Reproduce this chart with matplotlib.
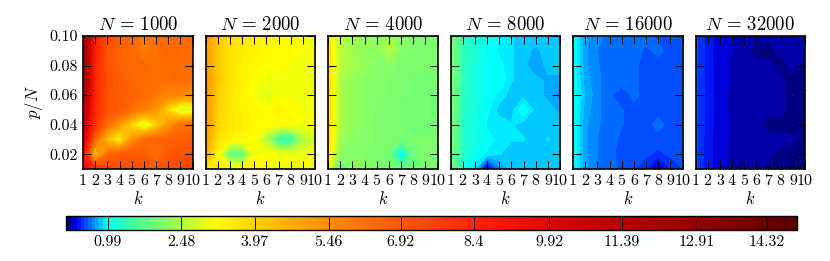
import numpy as np
import matplotlib
matplotlib.use('Agg')
import matplotlib.pyplot as plt
from matplotlib.colors import LinearSegmentedColormap

plt.rcParams['font.family'] = 'cmr10'
plt.rcParams['mathtext.fontset'] = 'cm'
plt.rcParams['axes.unicode_minus'] = False

k = [1, 2, 3, 4, 5, 6, 7, 8, 9, 10]
ratio = [0.01, 0.02, 0.03, 0.04, 0.05, 0.06, 0.07, 0.08, 0.09, 0.10]
ns = [1000, 2000, 4000, 8000, 16000, 32000]
cbar_ticks = [0.99, 2.48, 3.97, 5.46, 6.92, 8.4, 9.92, 11.39, 12.91, 14.32]
vmin = 0.15
vmax = 14.93

# rows go from p/N=0.01 up to p/N=0.10
z1000 = [
    [9.5, 8.0, 7.5, 7.3, 7.1, 7.1, 6.9, 7.2, 7.4, 7.6],
    [9.0, 4.0, 6.4, 6.8, 6.9, 6.8, 6.2, 6.9, 7.0, 7.1],
    [10.5, 6.4, 4.2, 3.1, 5.2, 6.3, 6.5, 6.6, 6.6, 6.9],
    [11.0, 8.0, 6.2, 5.2, 3.8, 2.5, 3.8, 5.2, 6.2, 6.3],
    [11.5, 8.2, 7.1, 6.8, 6.2, 5.8, 5.2, 3.8, 2.5, 2.7],
    [12.0, 8.4, 7.1, 6.8, 6.6, 6.3, 6.0, 5.6, 5.6, 5.3],
    [12.2, 8.4, 7.2, 6.8, 6.5, 6.3, 6.2, 6.3, 6.4, 6.2],
    [12.4, 8.4, 7.0, 6.6, 6.4, 6.4, 6.2, 6.3, 6.3, 6.2],
    [12.6, 8.5, 7.1, 6.6, 6.4, 5.9, 6.2, 6.4, 6.4, 6.3],
    [12.8, 8.6, 7.2, 6.7, 6.5, 6.1, 6.3, 6.5, 6.4, 6.4],
]
z2000 = [
    [3.6, 3.4, 3.3, 3.3, 3.3, 3.2, 3.1, 3.1, 3.1, 3.1],
    [4.8, 3.3, 1.8, 1.7, 3.1, 3.2, 3.1, 3.0, 3.0, 3.1],
    [5.0, 3.7, 3.3, 3.3, 3.2, 2.5, 1.3, 1.2, 2.4, 2.8],
    [5.1, 3.9, 3.6, 3.5, 3.3, 3.2, 3.2, 3.2, 3.1, 3.1],
    [5.2, 4.0, 3.6, 3.4, 3.3, 3.2, 3.4, 3.2, 3.1, 3.1],
    [5.2, 4.1, 3.6, 3.4, 3.1, 2.9, 3.1, 3.1, 3.0, 3.0],
    [5.2, 4.1, 3.7, 3.4, 3.2, 3.0, 3.1, 3.1, 3.1, 3.1],
    [5.2, 4.1, 3.7, 3.4, 3.3, 3.2, 3.2, 3.1, 3.1, 3.0],
    [5.2, 4.1, 3.7, 3.5, 3.4, 3.3, 3.2, 3.2, 3.1, 3.1],
    [5.3, 4.2, 3.8, 3.6, 3.4, 3.3, 3.3, 3.2, 3.1, 3.1],
]
z4000 = [
    [3.1, 1.4, 2.25, 2.15, 2.05, 2.05, 1.85, 1.95, 2.05, 2.05],
    [3.5, 2.15, 2.15, 2.05, 2.05, 1.95, 0.8, 1.85, 2.05, 1.95],
    [3.7, 2.35, 2.15, 2.15, 2.05, 2.05, 1.95, 2.05, 2.05, 2.05],
    [3.8, 2.45, 2.25, 2.15, 2.05, 2.05, 2.05, 1.95, 1.95, 1.95],
    [3.8, 2.45, 2.25, 2.15, 2.05, 2.05, 1.95, 1.95, 1.95, 1.95],
    [3.8, 2.45, 2.25, 2.15, 2.15, 2.05, 2.05, 1.95, 1.95, 1.95],
    [3.8, 2.45, 2.25, 2.15, 2.15, 2.05, 2.05, 1.95, 1.95, 2.05],
    [3.8, 2.55, 2.45, 2.25, 2.15, 2.15, 2.05, 2.05, 2.05, 2.05],
    [3.7, 2.55, 2.35, 2.25, 2.15, 2.55, 2.15, 2.05, 2.05, 2.05],
    [3.7, 2.55, 2.35, 2.25, 2.25, 2.35, 2.15, 2.05, 2.05, 2.05],
]
z8000 = [
    [1.9, 1.15, 0.9, 0.2, 0.7, 0.85, 0.85, 0.85, 0.85, 0.85],
    [2.0, 1.25, 1.05, 0.95, 0.9, 0.85, 0.85, 0.85, 0.85, 0.85],
    [2.1, 1.25, 1.1, 1.0, 0.95, 0.9, 0.9, 0.85, 0.9, 0.85],
    [2.1, 1.25, 1.15, 0.95, 0.95, 0.9, 0.85, 0.85, 0.85, 0.85],
    [2.1, 1.25, 1.15, 1.0, 0.85, 0.85, 1.05, 0.85, 0.85, 0.8],
    [2.1, 1.35, 1.15, 1.0, 0.95, 0.85, 0.85, 0.85, 0.8, 0.7],
    [2.1, 1.35, 1.15, 1.0, 1.05, 0.9, 0.85, 0.85, 0.8, 0.8],
    [2.1, 1.35, 1.15, 1.0, 1.0, 0.9, 0.85, 0.75, 0.85, 0.85],
    [2.1, 1.35, 1.2, 1.05, 0.95, 0.9, 0.85, 0.8, 0.85, 0.85],
    [2.1, 1.35, 1.2, 1.05, 0.95, 0.9, 0.85, 0.85, 0.85, 0.85],
]
z16000 = [
    [1.05, 0.76, 0.67, 0.62, 0.58, 0.54, 0.45, 0.2, 0.45, 0.52],
    [1.05, 0.76, 0.67, 0.61, 0.58, 0.56, 0.54, 0.5, 0.54, 0.56],
    [1.05, 0.76, 0.67, 0.62, 0.58, 0.56, 0.56, 0.56, 0.56, 0.56],
    [1.05, 0.76, 0.68, 0.63, 0.6, 0.56, 0.56, 0.63, 0.56, 0.56],
    [1.05, 0.78, 0.69, 0.62, 0.6, 0.57, 0.56, 0.56, 0.56, 0.56],
    [1.05, 0.82, 0.69, 0.62, 0.52, 0.62, 0.56, 0.56, 0.56, 0.56],
    [1.05, 0.78, 0.69, 0.62, 0.66, 0.62, 0.56, 0.56, 0.56, 0.56],
    [1.05, 0.76, 0.68, 0.62, 0.6, 0.61, 0.57, 0.56, 0.56, 0.54],
    [1.05, 0.76, 0.67, 0.63, 0.62, 0.63, 0.58, 0.62, 0.56, 0.56],
    [1.05, 0.76, 0.69, 0.65, 0.62, 0.63, 0.62, 0.58, 0.57, 0.56],
]
z32000 = [
    [0.55, 0.4, 0.33, 0.27, 0.26, 0.25, 0.19, 0.19, 0.19, 0.17],
    [0.55, 0.4, 0.33, 0.28, 0.26, 0.25, 0.25, 0.19, 0.19, 0.19],
    [0.55, 0.4, 0.33, 0.29, 0.26, 0.25, 0.25, 0.25, 0.24, 0.19],
    [0.55, 0.41, 0.33, 0.29, 0.26, 0.25, 0.19, 0.19, 0.19, 0.19],
    [0.55, 0.41, 0.33, 0.28, 0.26, 0.25, 0.25, 0.25, 0.19, 0.19],
    [0.55, 0.41, 0.33, 0.28, 0.25, 0.25, 0.25, 0.25, 0.19, 0.19],
    [0.55, 0.41, 0.33, 0.29, 0.26, 0.25, 0.25, 0.24, 0.19, 0.19],
    [0.55, 0.41, 0.33, 0.29, 0.26, 0.25, 0.25, 0.19, 0.25, 0.19],
    [0.55, 0.41, 0.33, 0.3, 0.26, 0.19, 0.19, 0.25, 0.25, 0.25],
    [0.55, 0.41, 0.33, 0.3, 0.27, 0.26, 0.25, 0.25, 0.25, 0.25],
]
panels = [z1000, z2000, z4000, z8000, z16000, z32000]

cmap = LinearSegmentedColormap.from_list('warped_jet', [
    (0.0, '#000070'), (0.0025, '#000088'), (0.0075, '#0000b0'), (0.0125, '#0000e0'),
    (0.02, '#0020ff'), (0.056, '#00ffff'), (0.09, '#40ffa0'),
    (0.15, '#a0ff50'), (0.205, '#ffff00'), (0.30, '#ffb000'), (0.42, '#ff6a00'),
    (0.58, '#ff1a00'), (0.70, '#cc0000'), (0.85, '#990000'), (1.0, '#5a0000'),
], N=1024)

W, H = 830.0, 261.0
lefts = [83, 205.5, 328, 450.5, 573, 695.5]
levels = np.linspace(vmin, vmax, 200)

fig = plt.figure(figsize=(W/100, H/100), dpi=100)
for i, z in enumerate(panels):
    ax = fig.add_axes([lefts[i]/W, 1-169/H, 109.5/W, 133/H])
    cs = ax.contourf(k, ratio, np.array(z), levels=levels, cmap=cmap, vmin=vmin, vmax=vmax)
    ax.set_xticks(k)
    ax.set_yticks([0.02, 0.04, 0.06, 0.08, 0.10])
    ax.set_xlim(1, 10)
    ax.set_ylim(0.01, 0.10)
    ax.tick_params(direction='in', top=True, right=True, length=5.5, width=0.7, labelsize=11.5, pad=4)
    if i == 0:
        ax.set_yticklabels(['0.02', '0.04', '0.06', '0.08', '0.10'])
        ax.set_ylabel('$p/N$', fontsize=12, labelpad=3)
    else:
        ax.set_yticklabels([])
    ax.set_xlabel('$k$', fontsize=12, labelpad=1)
    ax.set_title(r'$N\,=\,%d$' % ns[i], fontsize=13.5, pad=4)
    for s in ax.spines.values():
        s.set_linewidth(1.2)

cax = fig.add_axes([66/W, 1-229.5/H, 731/W, 13.5/H])
cb = fig.colorbar(cs, cax=cax, orientation='horizontal', ticks=cbar_ticks)
cb.ax.set_xticklabels(['%g' % t for t in cbar_ticks])
cb.ax.tick_params(direction='in', length=9.5, width=0.7, labelsize=11.5, pad=4)
cb.outline.set_linewidth(1.0)

fig.savefig('out.png', dpi=100)
